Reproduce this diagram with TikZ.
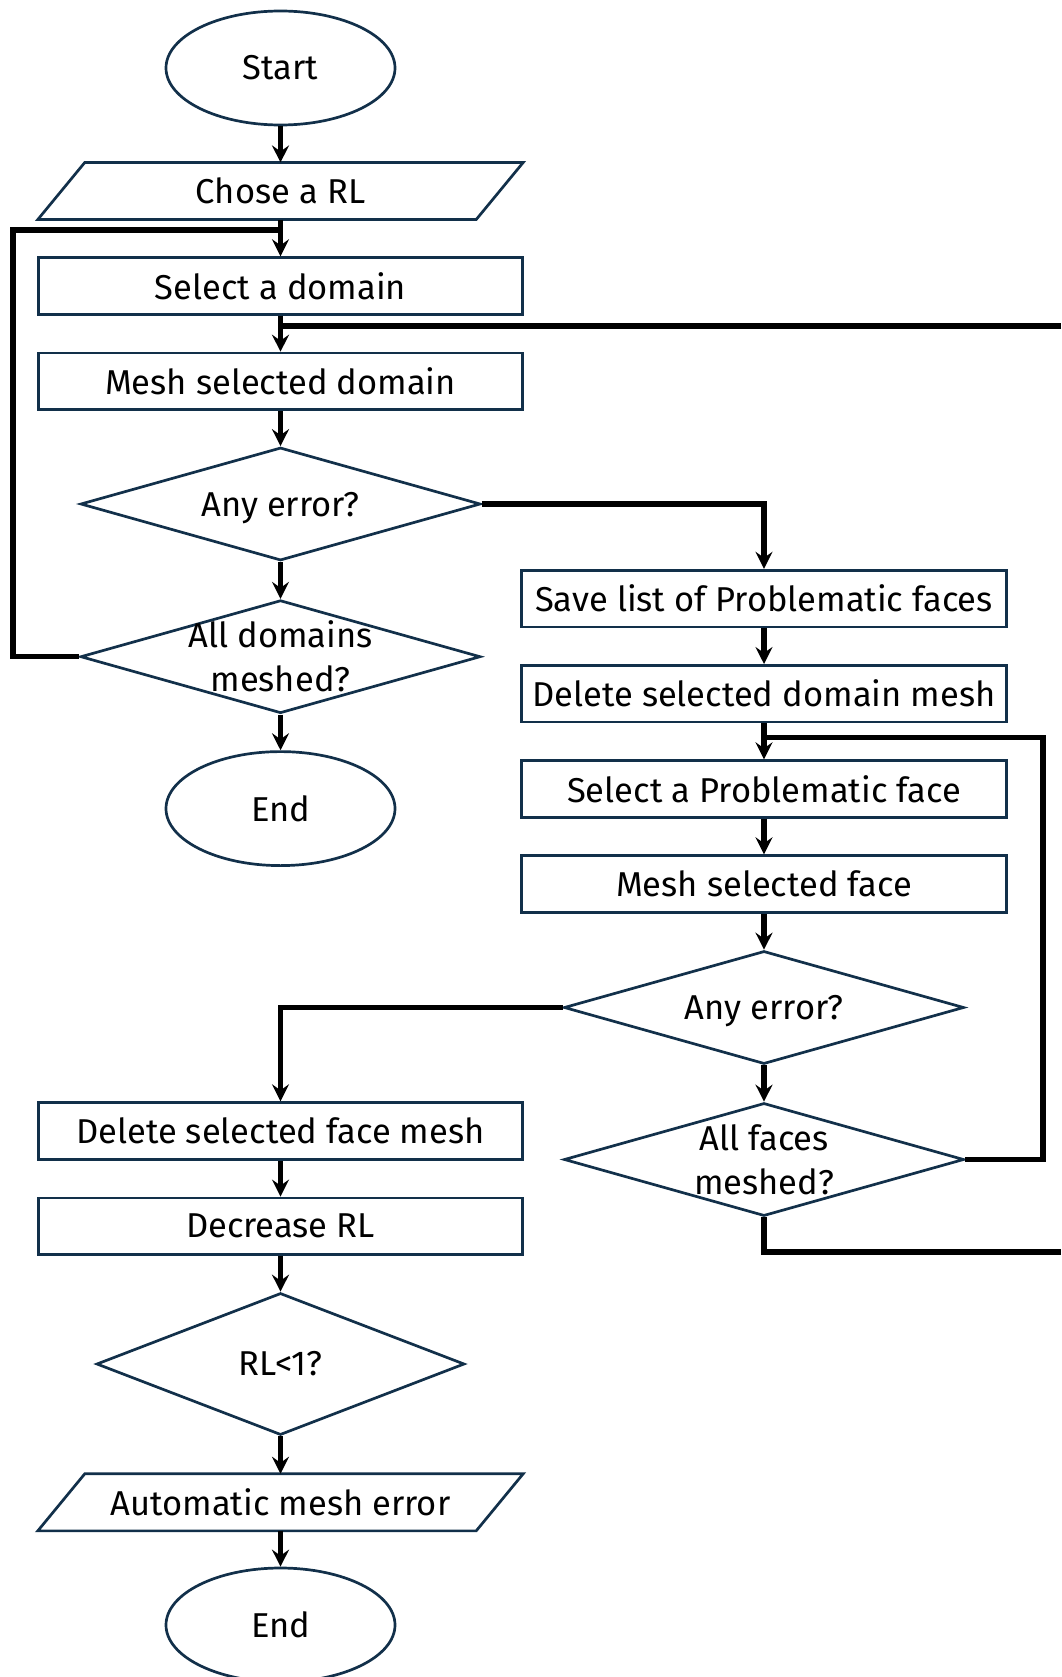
\documentclass[tikz,border=0pt]{standalone}
\usepackage{fontspec}
\setmainfont{Fira Sans}
\usetikzlibrary{shapes.geometric,arrows.meta,calc}
\definecolor{boxc}{HTML}{12304A}
\tikzset{
  base/.style={draw=boxc, line width=2.7pt, inner sep=0pt, font=\fontsize{34.5}{44}\selectfont, align=center},
  procbox/.style={base, rectangle, minimum width=484.5pt, minimum height=56.7pt},
  term/.style={base, ellipse, minimum width=229pt, minimum height=114pt},
  dec/.style={base, diamond, minimum width=400pt, minimum height=113pt},
  iobox/.style={inner sep=0pt, minimum width=438pt, minimum height=56.7pt, font=\fontsize{34.5}{44}\selectfont},
  txt/.style={inner sep=0pt, font=\fontsize{34.5}{44}\selectfont, align=center},
  conn/.style={line width=5.5pt, black},
  arr/.style={conn, -{Stealth[length=17pt,width=17pt,inset=6pt]}}
}
\begin{document}
\begin{tikzpicture}[x=1pt,y=-1pt]
\clip (0,0) rectangle (1061,1677);
% left column
\node[term] (start) at (280.5,68) {Start};
\node[iobox] (rl) at (280.5,191) {Chose a RL};
\draw[base] ([xshift=-23.5pt]rl.south west) -- ([xshift=-23.5pt]rl.south east) -- ([xshift=23.5pt]rl.north east) -- ([xshift=23.5pt]rl.north west) -- cycle;
\node[procbox] (sel) at (280.5,286) {Select a domain};
\node[procbox] (msd) at (280.5,381.4) {Mesh selected domain};
\node[dec] (d1) at (280.5,504) {};
\node[txt, yshift=-4pt] (d1t) at (d1) {Any error?};
\node[dec] (d2) at (280.5,656.7) {};
\node[txt] (d2t) at (d2) {All domains\\meshed?};
\node[term] (end1) at (280.5,808.6) {End};
% right column
\node[procbox] (save) at (764,598.5) {Save list of Problematic faces};
\node[procbox] (deldm) at (764,693.7) {Delete selected domain mesh};
\node[procbox] (selpf) at (764,789) {Select a Problematic face};
\node[procbox] (msf) at (764,884) {Mesh selected face};
\node[dec] (e1) at (764,1007.5) {};
\node[txt, yshift=-4pt] (e1t) at (e1) {Any error?};
\node[dec] (e2) at (764,1159.5) {};
\node[txt] (e2t) at (e2) {All faces\\meshed?};
% lower left column
\node[procbox] (delfm) at (280.5,1131) {Delete selected face mesh};
\node[procbox] (decr) at (280.5,1226.3) {Decrease RL};
\node[dec, minimum width=368pt, minimum height=142pt] (rlt) at (280.5,1364) {};
\node[txt] (rltt) at (rlt) {RL<1?};
\node[iobox] (ame) at (280.5,1502.3) {Automatic mesh error};
\draw[base] ([xshift=-23.5pt]ame.south west) -- ([xshift=-23.5pt]ame.south east) -- ([xshift=23.5pt]ame.north east) -- ([xshift=23.5pt]ame.north west) -- cycle;
\node[term] (end2) at (280.5,1625) {End};
% coordinates for loops
\coordinate (lc) at (13,230);
\coordinate (rtop) at (1061,326);
\coordinate (rbot) at (1061,1252);
\coordinate (rc) at (1043,737.5);
% connectors
\draw[arr] (start) -- (rl.north);
\draw[arr] (rl.south) -- (sel.north);
\draw[conn] (d2.west) -| (lc) -- (lc -| sel.north);
\draw[arr] (sel.south) -- (msd.north);
\draw[conn] (rtop) -- (rtop -| sel.south);
\draw[arr] (msd.south) -- (d1.north);
\draw[arr] (d1.east) -| (save.north);
\draw[arr] (d1.south) -- (d2.north);
\draw[arr] (d2.south) -- (end1.north);
\draw[arr] (save.south) -- (deldm.north);
\draw[arr] (deldm.south) -- (selpf.north);
\draw[conn] (e2.east) -| (rc) -- (rc -| selpf.north);
\draw[arr] (selpf.south) -- (msf.north);
\draw[arr] (msf.south) -- (e1.north);
\draw[arr] (e1.west) -| (delfm.north);
\draw[arr] (e1.south) -- (e2.north);
\draw[conn] (e2.south) |- (rbot);
\draw[arr] (delfm.south) -- (decr.north);
\draw[arr] (decr.south) -- (rlt.north);
\draw[arr] (rlt.south) -- (ame.north);
\draw[arr] (ame.south) -- (end2.north);
\end{tikzpicture}
\end{document}
